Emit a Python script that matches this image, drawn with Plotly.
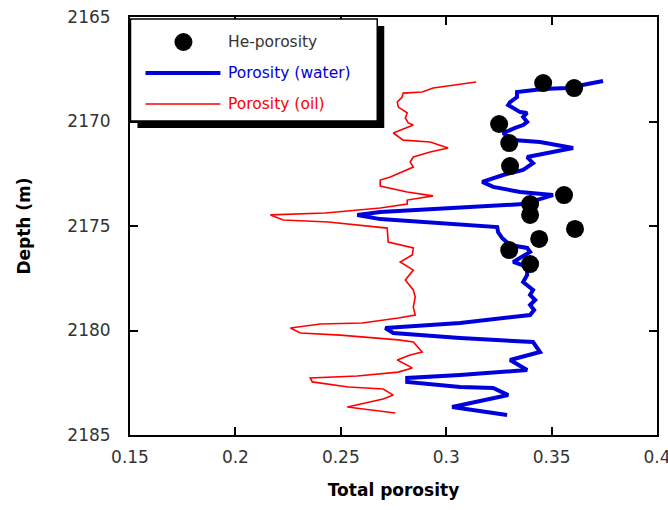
import plotly.graph_objects as go

# He-porosity core points
he_por = [0.3460, 0.3607, 0.3251, 0.3299, 0.3303, 0.3559, 0.3398, 0.3398, 0.3611, 0.3441, 0.3299, 0.3398]
he_depth = [2168.16, 2168.40, 2170.12, 2171.03, 2172.13, 2173.52, 2173.95, 2174.47, 2175.14, 2175.62, 2176.15, 2176.82]

# Porosity (water)
w_por = [0.3744, 0.3573, 0.3460, 0.3336, 0.3336, 0.3303, 0.3294, 0.3318, 0.3351, 0.3384,
         0.3365, 0.3384, 0.3365, 0.3327, 0.3270, 0.3318, 0.3445, 0.3602, 0.3507, 0.3384,
         0.3412, 0.3365, 0.3270, 0.3171, 0.3223, 0.3351, 0.3507, 0.3365, 0.2687, 0.2578,
         0.2687, 0.3242, 0.3246, 0.3265, 0.3303, 0.3384, 0.3398, 0.3318, 0.3384, 0.3384,
         0.3365, 0.3412, 0.3398, 0.3422, 0.3398, 0.3417, 0.3398, 0.3066, 0.2711, 0.2749,
         0.3066, 0.3412, 0.3445, 0.3398, 0.3303, 0.3384, 0.3066, 0.2815, 0.2815, 0.3066,
         0.3223, 0.3294, 0.3066, 0.3028, 0.3289]
w_depth = [2168.06, 2168.40, 2168.44, 2168.59, 2168.83, 2169.07, 2169.21, 2169.35, 2169.55, 2169.59,
           2169.78, 2170.02, 2170.17, 2170.31, 2170.55, 2170.89, 2170.98, 2171.27, 2171.46, 2171.70,
           2171.99, 2172.32, 2172.56, 2172.89, 2173.13, 2173.37, 2173.52, 2173.95, 2174.33, 2174.47,
           2174.67, 2175.05, 2175.29, 2175.57, 2175.91, 2176.05, 2176.24, 2176.72, 2176.96, 2177.34,
           2177.68, 2178.06, 2178.30, 2178.54, 2178.78, 2179.02, 2179.26, 2179.64, 2179.88, 2180.12,
           2180.36, 2180.55, 2181.03, 2181.17, 2181.41, 2181.89, 2182.13, 2182.27, 2182.46, 2182.70,
           2182.75, 2183.09, 2183.56, 2183.66, 2184.04]

# Porosity (oil)
o_por = [0.3142, 0.3052, 0.2938, 0.2886, 0.2796, 0.2791, 0.2768, 0.2773, 0.2815, 0.2806,
         0.2820, 0.2844, 0.2749, 0.2796, 0.2924, 0.3009, 0.2924, 0.2844, 0.2829, 0.2844,
         0.2735, 0.2687, 0.2687, 0.2815, 0.2938, 0.2815, 0.2815, 0.2687, 0.2427, 0.2166,
         0.2227, 0.2441, 0.2687, 0.2720, 0.2725, 0.2844, 0.2839, 0.2782, 0.2844, 0.2806,
         0.2844, 0.2853, 0.2844, 0.2853, 0.2773, 0.2602, 0.2403, 0.2261, 0.2308, 0.2498,
         0.2773, 0.2844, 0.2886, 0.2829, 0.2768, 0.2839, 0.2773, 0.2578, 0.2355, 0.2365,
         0.2536, 0.2701, 0.2749, 0.2701, 0.2531, 0.2758]
o_depth = [2168.11, 2168.25, 2168.40, 2168.59, 2168.64, 2168.83, 2169.07, 2169.31, 2169.59, 2169.83,
           2170.07, 2170.17, 2170.55, 2170.89, 2170.98, 2171.27, 2171.46, 2171.70, 2171.94, 2172.18,
           2172.66, 2172.80, 2173.09, 2173.37, 2173.56, 2173.76, 2173.95, 2174.14, 2174.38, 2174.47,
           2174.71, 2174.81, 2175.05, 2175.10, 2175.77, 2176.05, 2176.39, 2176.72, 2177.11, 2177.58,
           2178.06, 2178.40, 2178.88, 2179.26, 2179.40, 2179.64, 2179.69, 2179.88, 2180.12, 2180.22,
           2180.45, 2180.55, 2181.03, 2181.17, 2181.41, 2181.79, 2181.99, 2182.18, 2182.27, 2182.46,
           2182.70, 2182.80, 2183.09, 2183.28, 2183.66, 2183.95]

x_ticks = [0.15, 0.2, 0.25, 0.3, 0.35, 0.4]
x_ticktext = ["0.15", "0.2", "0.25", "0.3", "0.35", "0.4"]
y_ticks = [2165, 2170, 2175, 2180, 2185]

legend_names = ["He-porosity", "Porosity (water)", "Porosity (oil)"]

FONT = "DejaVu Sans"
BLUE = "#0000dd"
RED = "#ff0000"
TXT = "#333333"

fig = go.Figure()
fig.add_trace(go.Scatter(x=o_por, y=o_depth, mode="lines", name=legend_names[2],
                         line=dict(color=RED, width=1.6), showlegend=False))
fig.add_trace(go.Scatter(x=w_por, y=w_depth, mode="lines", name=legend_names[1],
                         line=dict(color=BLUE, width=4), showlegend=False))
fig.add_trace(go.Scatter(x=he_por, y=he_depth, mode="markers", name=legend_names[0],
                         marker=dict(color="black", size=18), showlegend=False))

# plot area in pixels: x 129.5..657, y 17..435
def px(p):
    return (p - 129.5) / 527.5

def py(p):
    return (435 - p) / 418

shapes = [
    # legend shadow
    dict(type="rect", xref="paper", yref="paper", x0=px(137), x1=px(384), y0=py(128), y1=py(26),
         fillcolor="black", line=dict(width=0), layer="above"),
    # legend box
    dict(type="rect", xref="paper", yref="paper", x0=px(130), x1=px(377), y0=py(121), y1=py(19),
         fillcolor="white", line=dict(color="black", width=1.5), layer="above"),
    # legend symbols
    dict(type="circle", xref="paper", yref="paper", x0=px(174), x1=px(192), y0=py(51), y1=py(33),
         fillcolor="black", line=dict(width=0), layer="above"),
    dict(type="line", xref="paper", yref="paper", x0=px(145), x1=px(220), y0=py(73), y1=py(73),
         line=dict(color=BLUE, width=4), layer="above"),
    dict(type="line", xref="paper", yref="paper", x0=px(145), x1=px(220), y0=py(104), y1=py(104),
         line=dict(color=RED, width=1.6), layer="above"),
]
annotations = [
    dict(xref="paper", yref="paper", x=px(226), y=py(42), text=legend_names[0], showarrow=False,
         xanchor="left", yanchor="middle", font=dict(family=FONT, size=15.5, color=TXT)),
    dict(xref="paper", yref="paper", x=px(226), y=py(73), text=legend_names[1], showarrow=False,
         xanchor="left", yanchor="middle", font=dict(family=FONT, size=15.5, color=BLUE)),
    dict(xref="paper", yref="paper", x=px(226), y=py(104), text=legend_names[2], showarrow=False,
         xanchor="left", yanchor="middle", font=dict(family=FONT, size=15.5, color=RED)),
]

fig.update_layout(
    width=668, height=510,
    margin=dict(l=129.5, r=11, t=17, b=75),
    paper_bgcolor="white", plot_bgcolor="white",
    font=dict(family=FONT, size=17, color=TXT),
    shapes=shapes, annotations=annotations,
    showlegend=False,
)
fig.update_xaxes(range=[0.15, 0.4], tickvals=x_ticks, ticktext=x_ticktext, automargin=False,
                 ticklabeloverflow="allow",
                 showgrid=False, zeroline=False, showline=True, linecolor="black", linewidth=2,
                 mirror="ticks", ticks="inside", ticklen=8, tickwidth=2, tickcolor="black",
                 ticklabelstandoff=6,
                 title=dict(text="<b>Total porosity</b>", font=dict(family=FONT, size=17, color="black"),
                            standoff=18))
fig.update_yaxes(range=[2185, 2165], tickvals=y_ticks, automargin=False,
                 ticklabeloverflow="allow",
                 showgrid=False, zeroline=False, showline=True, linecolor="black", linewidth=2,
                 mirror="ticks", ticks="inside", ticklen=8, tickwidth=2, tickcolor="black",
                 ticklabelstandoff=14,
                 title=dict(text="<b>Depth (m)</b>", font=dict(family=FONT, size=17, color="black"),
                            standoff=32))

fig.write_html("out.html")
